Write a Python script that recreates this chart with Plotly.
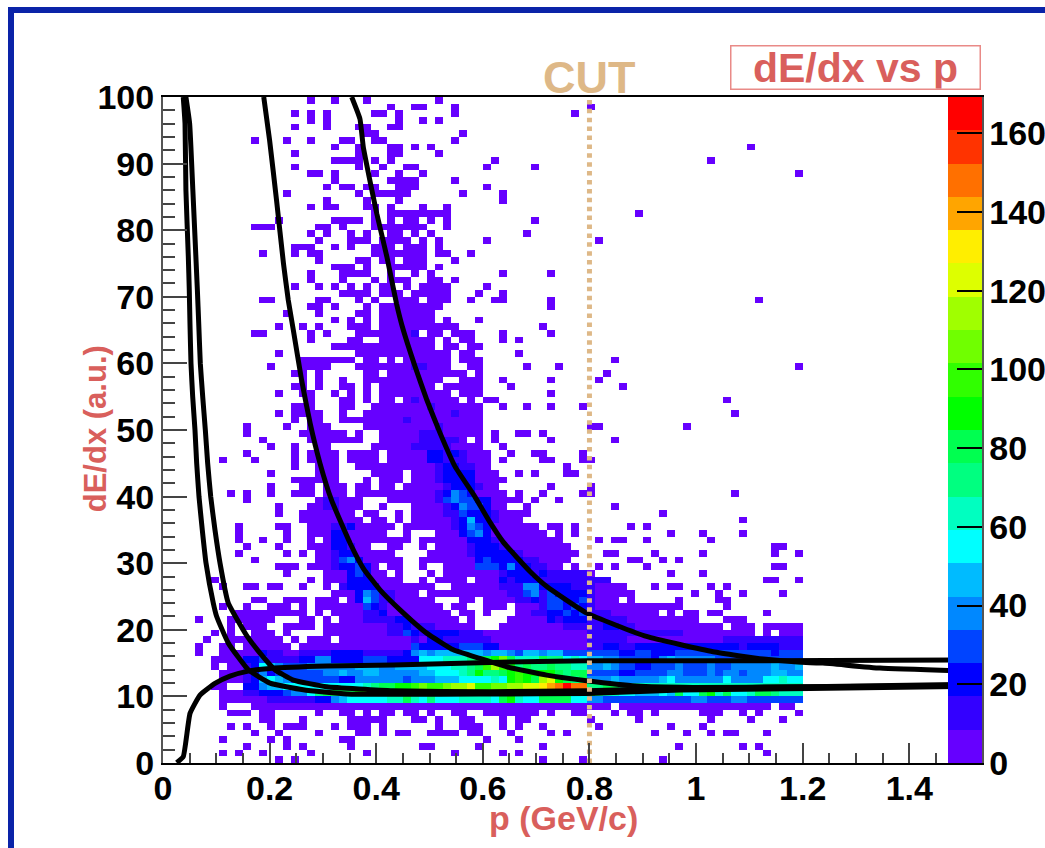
import plotly.graph_objects as go

# ---------- data ----------
N_P_BINS = 100
N_Y_BINS = 100
P_BIN_WIDTH = 0.015
Y_BIN_WIDTH = 1.0
# z value represented by each colour level 1..20 (codes below)
LEVEL_CODES = "123456789abcdefghijk"
LEVEL_COUNTS = [4, 13, 21, 30, 38, 47, 55, 63, 72, 80, 89, 97, 106, 114, 123, 131, 140, 148, 157, 165]
PALETTE = ["#6600ff", "#3300ff", "#0000ff", "#0044ff", "#0088ff", "#00bbff", "#00ffff", "#00ffc0",
           "#00ff80", "#00ff50", "#00ff00", "#30ff00", "#70ff00", "#a0ff00", "#ddff00", "#ffee00",
           "#ffa500", "#ff7000", "#ff3300", "#ff0000"]
Z_MAX = 169.2

# occupied bins (lowest level) for dE/dx rows 99 .. 0
OCCUPIED = [
 "18 21 25 34", "28 31-32 36 53", "16 18 20 26-27 29 36 51", "18 20 29 32 34", "16 20 24-25 28-29",
 "25-26 37", "11 15 18 22-23 26-27 36", "21 24 28-29 31 33 73", "16 24 28-29 34", "21-24 26 28 41 68",
 "16 24 27 30-31 40 46", "18-19 21 26 29 32 79", "21 28-31 36", "20 22-23 25-26 29-31 40", "15 24 26-30 37 42",
 "20 25 29 42", "18 20-21 25-26 28 32 35", "26 28-35 59", "14 21-24 26 28 30-31 33 35 46", "11-13 19-20 22 26-32 35",
 "18 20 23 25 28-29 31 33 45", "19 23-25 27-30 32 34 40 54", "16-18 21 23 26-28 30-32 34", "12 16 18-19 26-32 34-35 38", "19 24-25 27-28 30-32 36",
 "21-23 25 28-32 34", "18 22-25 28 31 33 42 48", "18 22 26 28-30 33-34 36", "16 19 21 23 25 27-28 30 32-35 40", "22-25 27-29 31-35 39 42",
 "12-13 19-20 24 26 29-31 33-35 38 41-42 48 74", "18-19 21 25 27-34 48", "15 19 24-25 27-33", "21 23 25 27-33 35 39", "14 17 19 23-25 27-36 47",
 "11-12 18 20 24-31 33-34 36-38 42 48", "18 23-24 27-33 35 37-38 42 44", "21-33 35-36 38-39", "14 24-35 37-38 44", "17-23 25-26 28 30-35 37-39 56",
 "13 17-20 24-35 38-39 45 49 79", "16-17 19 25-26 28-37 39 55", "17 19 22 25-34 37-39 42 48 54", "16-17 19 22-23 25 27-33 35-39 43 57", "14 17-18 21 23 25 27-35 37-39 48",
 "18 22-23 25 27-28 30-36 38 40-41 70", "16-18 22-23 26-39 42 45 48 52", "14 16-19 22 25-39 71", "16 18-19 22-39", "10 15 18-20 25-39 53-54 65",
 "10 17-22 24 27-39 41 44-45 47", "12 18-24 27-37 39 41 48 56", "13 16 19-20 26-39 42", "10 16 18-21 23-26 28-40 43 46-47 52", "7 11 16 18-21 23-26 28-40 42 47-48 52-53",
 "16 19-21 24-40 50", "13 19-21 26-29 31-41 44 46 50-51", "16-21 25 27-29 31-42", "13 17-18 20-22 24-25 27-28 30-41 48 53", "8 10 13 16-18 20-22 24-42 44 47 52-53 71",
 "10 19-24 28-44 46 49", "14 18-24 27 31-42 45 56", "14 17-23 25-26 29 31-45 62", "17-24 26-27 29 31-44 72", "9 14-15 18-28 30-46 48-49 51 58 60",
 "9 15 18-27 30 34-47 49 51 63 67 72", "9 12 15 18 20-30 32-49 54 56-57 60 68", "10 14 18-25 28-29 32 34-50 76-77", "9 15 17 19-28 33-51 55-56 61 67 76 79", "11 19-29 32-50 58-59 62 64",
 "14-16 18-26 28-29 32 35-49 51 54 56 60 76-77", "15 20-27 29 33 35-53 63 67", "6 18 20-29 32 34-37 39-55 75-76 79", "7 10-11 13-14 17 20 22-33 36-57 61 63-64 68 70", "21-31 33-58 66 69 72 77",
 "11-12 15-17 19-21 23-33 37-38 40-56 58 64 69-70", "7 10 13-15 17 19-34 36-37 40-42 44-64 70", "9-17 19 21-35 37-38 40 44-61 63 65-66 68-69 75", "4 8-13 17-18 20 22-36 38 43-66 70-72", "8 10-12 15-18 20-38 42-69 71-73 75-79",
 "6 8 11-13 15 20-73 75 77-79", "5 8-14 16 18-20 22-79", "4 7-8 10-15 17-79", "4 7-79", "6-79",
 "6 8-79", "7-79", "7-79", "6-7 10-79", "7-79",
 "7-79", "7 11-55 57-75 77-78", "8-10 12-13 19 22-23 25 27-28 30-31 33 36-37 40-46 48 51-52 56 58-59 61 67-69 72 74 79", "12-13 17 23-27 31-32 34 37-38 42 44-45 53 59 68 73 77", "8 10 13 15-17 21 23-25 27 34 37-39 42 44 47 54 63 67",
 "11 14 19 24-25 27 29-30 33-36 38-39 43 48 50 61 65 68 70-71 75", "7 13 15 22-23 40 44", "10 15 17 23 32-33 39 47 64 72 74", "7 9 12 18 25 36 42 44 75", "14 16 47 52 62",
]

# raised levels on top of the occupied bins, by dE/dx row
RAISED = {
 64: "31:2", 59: "31-32:2", 54: "31:2", 53: "33:2", 52: "36:2", 51: "30:2", 50: "34:2", 49: "32-34:2",
 48: "32-36:2", 47: "31-35:2", 46: "33-34:3 35:2 36:3 37:2", 45: "33-34:3 35-37:2", 44: "34:2 35-36:3 37-38:2",
 43: "34:2 35-38:3", 42: "34:2 35-38:3", 41: "35:2 36-38:3 39:2", 40: "34:2 35:3 36:5 37:4 38:3",
 39: "20-21:2 34:2 35:4 36:5 37-38:4 39-40:3", 38: "20-21:2 35:2 36:3 37:5 38-39:4 40:3",
 37: "35-36:2 37:4 38-40:3 41:2", 36: "36:2 37:3 38:6 39-40:3 41:2", 35: "21-22:2 23:3 36:2 37:3 38:5 39:4 40:3",
 34: "21-22:3 37:3 38:4 39:5 40:3", 33: "21-22:3 38-40:3 41:2", 32: "21-22:3 23:2 38:2 39-41:3 42:2",
 31: "21:2 22-23:3 38:2 39-43:3 44:2", 30: "21:2 22:4 23:5 24:3 39:3 40:4 41-44:3 45-46:2",
 29: "21:2 22-23:3 24:4 25:3 39-41:4 42:3 43:5 44-45:3 46-47:2", 28: "23:3 24:4 25:3 42:2 43-45:3 46:2 47:3 48-52:2",
 27: "23-25:3 42:3 43:2 44-46:3 47-55:2", 26: "22:2 23-26:3 42-44:2 45-46:5 47-50:3 51-53:2",
 25: "24:3 25:5 26:4 27-28:2 43-44:2 45:4 46:5 47:2 48:4 49-52:3 53:2",
 24: "24:3 25:6 26:4 27-28:2 44-45:2 46:3 47:2 48-49:4 50-51:3 52:4 53:2",
 23: "25:4 26:3 27:2 47:2 48-49:4 50:3 51:4 52:3 53:2", 22: "25-26:2 27:3 46-47:2 48-49:3 50:4 51:3 52:4 53-55:2",
 21: "25-28:2 29-30:3 48:3 49:2 50-52:3 53-57:2", 20: "28-29:2 30:3 31-33:2 50-54:2 55-56:3 57-58:2",
 19: "28-29:2 30:4 31:3 32:2 33-36:3 37-39:2 53-64:2", 18: "31:2 33-34:3 35-40:2 53-57:2 70-79:2",
 17: "31:4 32-36:3 37-39:4 40-41:3 53-54:2 55-56:3 57-58:2 59-71:3 72:2 73-76:3 77-79:2",
}

# full colour band, rows 16 .. 9, bins 10 .. 79
BAND_FIRST_BIN = 10
BAND = {
 16: "1132211222" "2333322222" "3565666666" "5665466566" "4444444334" "4333444444" "4444443444",
 15: "3342222335" "5333344433" "337778889a" "abda888a99" "7876655444" "4356555554" "4444444444",
 14: "2376544455" "5555666556" "666777889a" "cecb9a99a9" "9885565443" "3444544454" "4555556556",
 13: "2353444444" "5565566555" "556677789b" "99abcbbbba" "9aa4444334" "4445544454" "5545556655",
 12: "2367654444" "4433555555" "4555666777" "787bcbaefb" "a9a5556555" "5567555555" "7555577877",
 11: "3356677777" "7777789aab" "bcdccdeefc" "cddeeffghi" "kii99aa888" "8888888888" "8888888888",
 10: "2233345579" "aaaabccdde" "efgfiigihh" "ikiighihgg" "khhb988776" "6676a77ab8" "a778aa9888",
 9:  "1112222223" "3567777788" "a879777888" "87ab877aaa" "a775544444" "4444445544" "4554444444",
}

# curves: p (GeV/c), dE/dx (a.u.)
CURVE_E_P = [.0257, .038, .0507, .0694, .0975, .1257, .16, .2007, .307, .432, .6134, .795, 1.032, 1.489]
CURVE_E_Y = [0.05, 0.95, 7.45, 10.2, 11.95, 13.05, 13.8, 14.2, 14.55, 14.7, 15.1, 15.35, 15.35, 15.45]
CURVE_A_P = [.038, .0413, .043, .0475, .0493, .0506, .0525, .0557, .06, .0632, .0675, .0737, .0807, .0944, .1007, .1225, .16, .2007, .263, .3446, .6134, .7947, .97, 1.214, 1.489]
CURVE_A_Y = [100, 96, 86, 76, 71, 66, 60, 55, 50, 45, 40, 35, 30, 24, 22, 18, 14, 12, 11, 10.35, 10.35, 10.45, 10.95, 11.2, 11.5]
CURVE_B_P = [.043, .05, .056, .0645, .067, .07, .0745, .0794, .0838, .0895, .0975, .107, .1225, .1394, .158, .182, .21, .2445, .307, .4316, .6134, .795, .97, 1.214, 1.489]
CURVE_B_Y = [100, 96, 86, 71, 66, 60, 55, 50, 45, 40, 35, 30, 24, 21.5, 19, 16.5, 14, 12.45, 11.45, 10.85, 10.7, 10.85, 11.2, 11.45, 11.6]
CURVE_C_P = [.189, .2, .213, .226, .235, .2445, .26, .276, .2945, .316, .351, .376, .407, .4446, .4946, .5446, .5946, .6447, .7197, .7947, .8886, .994, 1.214, 1.489]
CURVE_C_Y = [100, 93.5, 84.5, 75, 69.5, 65, 57.5, 51, 45, 39.5, 33, 29.2, 26, 23, 19.5, 17, 15.7, 14.45, 13.2, 12.35, 11.55, 11.35, 11.45, 11.8]
CURVE_D_P = [.354, .3695, .3757, .388, .401, .42, .438, .449, .473, .495, .52, .548, .585, .613, .638, .688, .72, .795, .907, 1.032, 1.126, 1.214, 1.238, 1.345, 1.489]
CURVE_D_Y = [100, 96.7, 92.5, 87.5, 82.5, 76, 69, 65.5, 59.5, 54.5, 49.5, 44.5, 40, 36.2, 33.2, 28.8, 26.5, 22.5, 19, 16.7, 15.6, 15.05, 15, 14.25, 13.85]
CUT_P = [0.8, 0.8]
CUT_Y = [0, 100]

X_TICKS = [0, 0.2, 0.4, 0.6, 0.8, 1, 1.2, 1.4]
Y_TICKS = [0, 10, 20, 30, 40, 50, 60, 70, 80, 90, 100]
Z_TICKS = [0, 20, 40, 60, 80, 100, 120, 140, 160]
X_MAX = 1.5364

# ---------- build grid ----------
level_value = dict(zip(LEVEL_CODES, LEVEL_COUNTS))
grid = [[None] * N_P_BINS for _ in range(N_Y_BINS)]
def bins(token):
    if "-" in token:
        a, b = token.split("-")
        return range(int(a), int(b) + 1)
    return [int(token)]
for i, spec in enumerate(OCCUPIED):
    for tok in spec.split():
        for k in bins(tok):
            grid[99 - i][k] = LEVEL_COUNTS[0]
for r, spec in RAISED.items():
    for tok in spec.split():
        rng, lev = tok.split(":")
        for k in bins(rng):
            grid[r][k] = level_value[lev]
for r, s in BAND.items():
    for j, c in enumerate(s):
        grid[r][BAND_FIRST_BIN + j] = level_value[c]

p_centers = [(k + 0.5) * P_BIN_WIDTH for k in range(N_P_BINS)]
y_centers = [(r + 0.5) * Y_BIN_WIDTH for r in range(N_Y_BINS)]

n = len(PALETTE)
colorscale = []
for i, c in enumerate(PALETTE):
    colorscale += [[i / n, c], [(i + 1) / n, c]]

# ---------- figure ----------
FONT = "Liberation Sans"
RED = "#d95f5c"
TAN = "#deb887"
W, H = 1045, 848
L, R, T, B = 163, 982, 96.5, 763
px = lambda v: (v - L) / (R - L)
py = lambda v: (B - v) / (B - T)

fig = go.Figure()
fig.add_trace(go.Heatmap(
    x=p_centers, y=y_centers, z=grid, colorscale=colorscale, zmin=0, zmax=Z_MAX,
    hoverongaps=False, xgap=0, ygap=0,
    colorbar=dict(x=px(948), xanchor="left", y=0, yanchor="bottom", len=1, lenmode="fraction",
                  thickness=34, thicknessmode="pixels", xpad=0, ypad=0, outlinewidth=0, borderwidth=0,
                  tickmode="array", tickvals=Z_TICKS, ticks="inside", ticklen=25, tickwidth=1.5, tickcolor="black",
                  ticklabelposition="outside",
                  tickfont=dict(family=FONT, size=34, color="black", weight=700)),
))
for xs, ys in [(CURVE_E_P, CURVE_E_Y), (CURVE_A_P, CURVE_A_Y), (CURVE_B_P, CURVE_B_Y), (CURVE_C_P, CURVE_C_Y), (CURVE_D_P, CURVE_D_Y)]:
    fig.add_trace(go.Scatter(x=xs, y=ys, mode="lines", line=dict(color="black", width=5, shape="spline", smoothing=0.4), showlegend=False, hoverinfo="skip"))
fig.add_trace(go.Scatter(x=CUT_P, y=CUT_Y, mode="lines", line=dict(color=TAN, width=5, dash="4.5px,4.4px"), showlegend=False, hoverinfo="skip"))

axis_font = dict(family=FONT, size=34, color="black", weight=700)
fig.update_xaxes(range=[0, X_MAX], tickmode="array", tickvals=X_TICKS, ticktext=["0", "0.2", "0.4", "0.6", "0.8", "1", "1.2", "1.4"],
                 ticks="inside", ticklen=20, tickwidth=1.5, tickcolor="#444", tickfont=axis_font, ticklabelstandoff=-6,
                 showline=True, linecolor="black", linewidth=1.5, mirror=True, showgrid=False, zeroline=False,
                 minor=dict(dtick=0.05, ticks="inside", ticklen=10, tickwidth=1.5, tickcolor="#444", showgrid=False))
fig.update_yaxes(range=[0, 100], tickmode="array", tickvals=Y_TICKS, ticks="inside", ticklen=24, tickwidth=1.5, tickcolor="#444",
                 tickfont=axis_font, showline=True, linecolor="#555", linewidth=2, mirror=True, showgrid=False, zeroline=False,
                 minor=dict(dtick=2, ticks="inside", ticklen=12, tickwidth=1.5, tickcolor="#444", showgrid=False))

fig.update_layout(
    width=W, height=H, autosize=False, paper_bgcolor="white", plot_bgcolor="white", showlegend=False,
    margin=dict(l=L, r=W - R, t=T, b=H - B, pad=0, autoexpand=False),
    shapes=[
        dict(type="rect", xref="paper", yref="paper", x0=px(8), x1=px(14), y0=py(848), y1=py(6.5), fillcolor="#0a23a8", line_width=0),
        dict(type="rect", xref="paper", yref="paper", x0=px(8), x1=px(1045), y0=py(12.5), y1=py(6.5), fillcolor="#0a23a8", line_width=0),
    ],
    annotations=[
        dict(text="<b>dE/dx vs p</b>", xref="paper", yref="paper", x=px(855), y=py(67), xanchor="center", yanchor="middle", showarrow=False,
             width=248, height=42, bordercolor="#e98a87", borderwidth=1.5, borderpad=0, font=dict(family=FONT, size=41, color=RED)),
        dict(text="<b>CUT</b>", xref="paper", yref="paper", x=px(589), y=py(77), xanchor="center", yanchor="middle", showarrow=False,
             font=dict(family=FONT, size=45, color=TAN)),
        dict(text="<b>p (GeV/c)</b>", xref="paper", yref="paper", x=px(563), y=py(818), xanchor="center", yanchor="middle", showarrow=False,
             font=dict(family=FONT, size=34, color=RED)),
        dict(text="<b>dE/dx (a.u.)</b>", xref="paper", yref="paper", x=px(95), y=py(429), xanchor="center", yanchor="middle", textangle=-90, showarrow=False,
             font=dict(family=FONT, size=31, color=RED)),
    ],
)
fig.write_html("out.html", config=dict(displayModeBar=False),
               post_script="document.body.style.margin='0';document.body.style.overflow='hidden';")
